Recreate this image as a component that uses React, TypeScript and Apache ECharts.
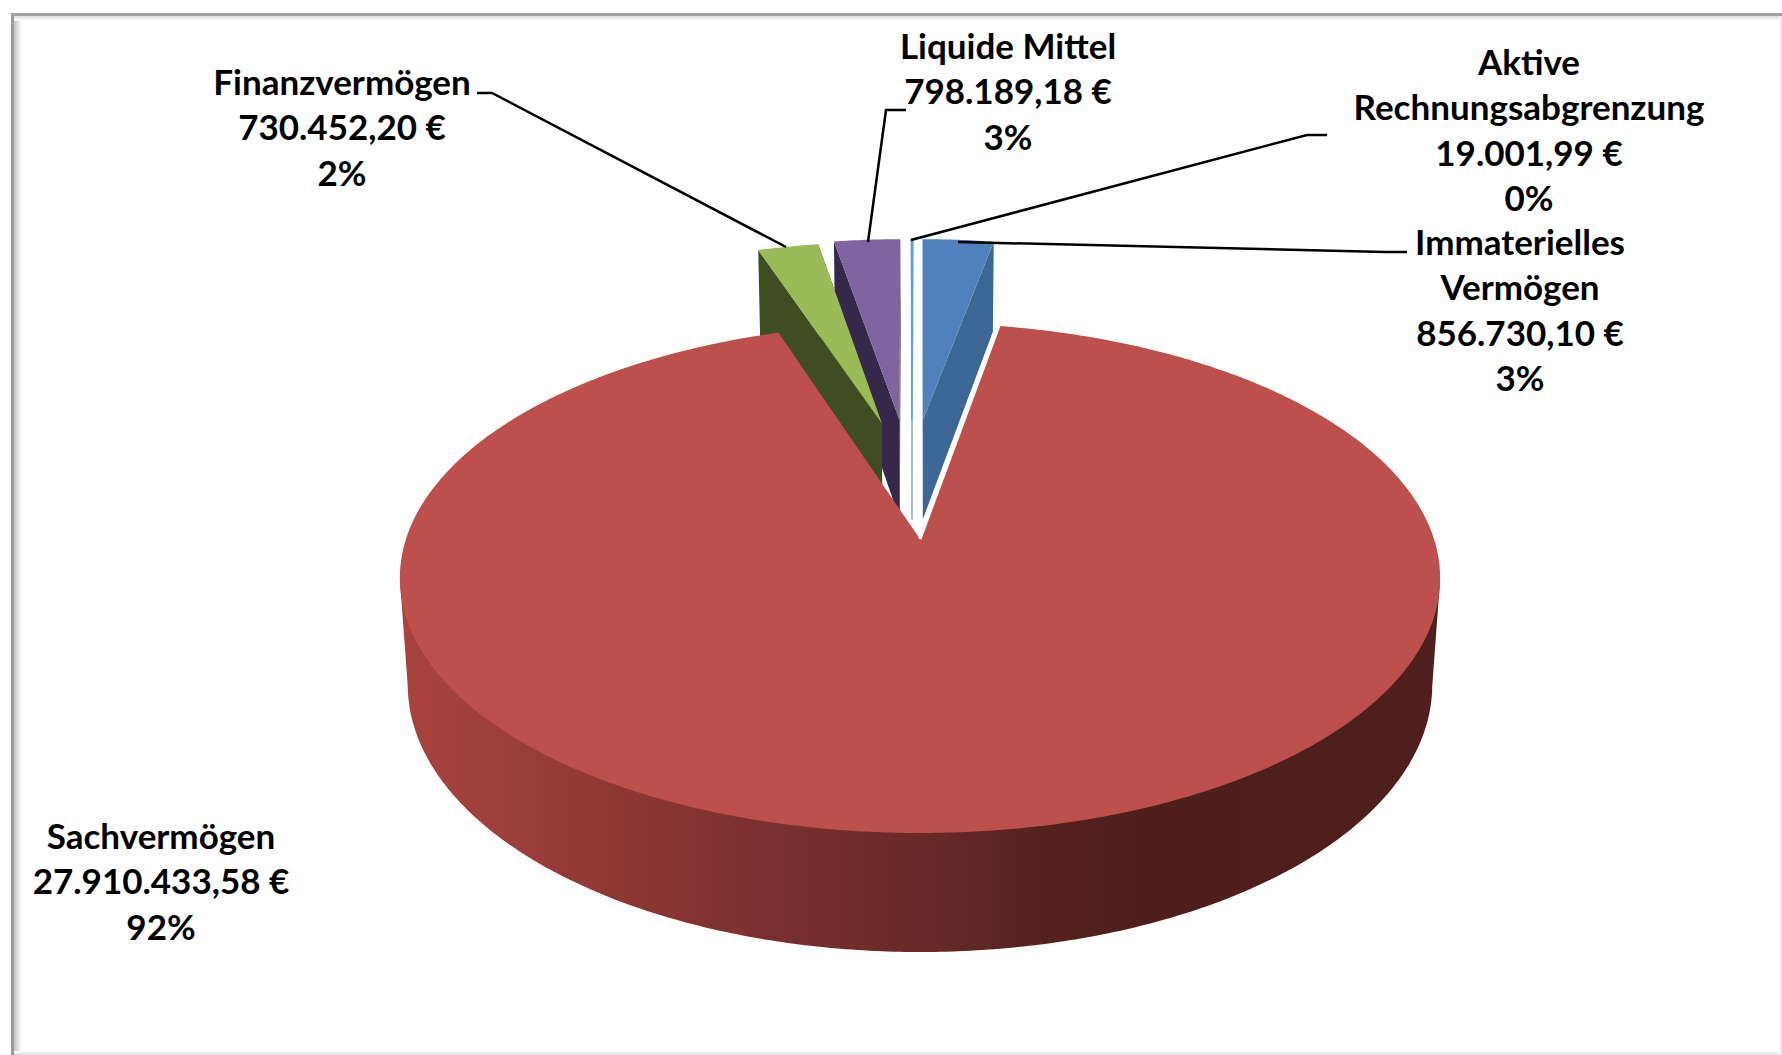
import React, { useEffect, useRef } from "react";
import * as echarts from "echarts";

// ---- data ----
const categories = ["Immaterielles\nVermögen", "Sachvermögen", "Finanzvermögen", "Liquide Mittel", "Aktive\nRechnungsabgrenzung"];
const values = [856730.1, 27910433.58, 730452.2, 798189.18, 19001.99];

// ---- styles and layout ----
const topColors = ["#4F81BD", "#BD4F4C", "#9BBB59", "#8064A2", "#4BACC6"];
const wallColors = ["#3B6797", "#7A2E2C", "#3F4E20", "#35284A", "#A9B9C0"];
const drawOrder = [3, 9, 2, 1, 0];
// explosion of each slice on the pie's plane (unit radius)
const explodeU = [0.006, 0, -0.08, -0.043, -0.017];
const explodeV = [-0.516, 0, -0.5, -0.516, -0.516];
const sliceRadius = [0.96, 1, 0.96, 0.96, 0.96];
const labelX = [1520, 161, 342, 1008, 1529];
const labelY = [309, 880, 126, 90, 129];
const leaders = [
  [[1407, 252], [1385, 252], [958, 242]],
  [],
  [[477, 93], [492, 93], [786, 247]],
  [[906, 110], [886, 110], [868, 242]],
  [[1327, 135], [1307, 135], [911, 240]],
];

const FONT = "Lato";
const FONT_SIZE = 35;
const SILHOUETTE_RIGHT = (99 / 180) * Math.PI;
const SILHOUETTE_LEFT = (261 / 180) * Math.PI;

// perspective of the pie: u right, v toward viewer, z down (0 top face, 1 bottom face)
function project(u: number, v: number, z: number): number[] {
  const w = 1 - 0.153 * v + 0.015 * z;
  return [920 + (514 * u) / w, 539 + (249 * v + 107 * z) / w];
}

const total = values.reduce((a, b) => a + b, 0);

function euro(v: number): string {
  const [i, d] = v.toFixed(2).split(".");
  return i.replace(/\B(?=(\d{3})+(?!\d))/g, ".") + "," + d + " €";
}

function sliceAngles(index: number): number[] {
  let start = 0;
  for (let i = 0; i < index; i++) start += values[i];
  return [(start / total) * 2 * Math.PI, ((start + values[index]) / total) * 2 * Math.PI];
}

function renderItem(params: any, api: any) {
  const i = params.dataIndex;
  const [a0, a1] = sliceAngles(i);
  const eu = explodeU[i];
  const ev = explodeV[i];
  const r = sliceRadius[i];
  const z2 = drawOrder[i];
  const rim = (a: number, z: number) => project(eu + r * Math.sin(a), ev - r * Math.cos(a), z);
  const apex = (z: number) => project(eu, ev, z);
  const sweep = (from: number, to: number, z: number) => {
    const steps = Math.max(2, Math.ceil((to - from) / 0.01));
    const pts: number[][] = [];
    for (let s = 0; s <= steps; s++) pts.push(rim(from + ((to - from) * s) / steps, z));
    return pts;
  };
  const topArc = sweep(a0, a1, 0);
  const children: any[] = [];
  if (i === 1) {
    // front wall: bottom rim between the silhouette points, closed under the top face
    const wall = [rim(SILHOUETTE_RIGHT, 0), ...sweep(SILHOUETTE_RIGHT, SILHOUETTE_LEFT, 1), rim(SILHOUETTE_LEFT, 0)];
    children.push({
      type: "polygon",
      z2,
      shape: { points: wall },
      style: {
        fill: new echarts.graphic.LinearGradient(0, 0, 1, 0, [
          { offset: 0, color: "#A8433F" },
          { offset: 0.1, color: "#9C3F3B" },
          { offset: 0.22, color: "#8C3733" },
          { offset: 0.38, color: "#772E2E" },
          { offset: 0.5, color: "#682A28" },
          { offset: 0.62, color: "#55211F" },
          { offset: 0.72, color: "#4E1E1C" },
          { offset: 1, color: "#4E1F1D" },
        ]),
      },
    });
  } else {
    const face = (a: number) => ({
      type: "polygon",
      z2,
      shape: { points: [apex(0), rim(a, 0), rim(a, 1), apex(1)] },
      style: { fill: wallColors[i], stroke: i === 4 ? wallColors[i] : undefined, lineWidth: i === 4 ? 1 : 0 },
    });
    children.push(face(a0), face(a1));
  }
  children.push({
    type: "polygon",
    z2,
    shape: { points: [apex(0), ...topArc] },
    style: { fill: topColors[i], stroke: i === 4 ? topColors[i] : undefined, lineWidth: i === 4 ? 1 : 0 },
  });
  if (i === 1) {
    children.push({
      type: "polyline",
      z2,
      shape: { points: [rim(a0, 0), apex(0)] },
      style: { stroke: "#FFFFFF", lineWidth: 3, fill: "none" },
    });
  }
  return { type: "group", children };
}

function buildOption() {
  const frame = [
    { type: "rect", shape: { x: 14, y: 16, width: 8, height: 1039 }, style: { fill: new echarts.graphic.LinearGradient(0, 0, 1, 0, [{ offset: 0, color: "#C4C4C4" }, { offset: 1, color: "#FFFFFF" }]) } },
    { type: "rect", shape: { x: 14, y: 16, width: 1768, height: 5 }, style: { fill: new echarts.graphic.LinearGradient(0, 0, 0, 1, [{ offset: 0, color: "#DDDDDD" }, { offset: 1, color: "#FFFFFF" }]) } },
    { type: "rect", shape: { x: 11, y: 13, width: 3, height: 1042 }, style: { fill: "#9C9C9C" } },
    { type: "rect", shape: { x: 11, y: 13, width: 1771, height: 3 }, style: { fill: "#A4A4A4" } },
    { type: "rect", shape: { x: 14, y: 1051, width: 1768, height: 4 }, style: { fill: new echarts.graphic.LinearGradient(0, 0, 0, 1, [{ offset: 0, color: "#FFFFFF" }, { offset: 1, color: "#DCDCDC" }]) } },
    { type: "rect", shape: { x: 1779, y: 16, width: 3, height: 1039 }, style: { fill: new echarts.graphic.LinearGradient(0, 0, 1, 0, [{ offset: 0, color: "#FFFFFF" }, { offset: 1, color: "#DCDCDC" }]) } },
  ];
  const lines = leaders
    .filter((p) => p.length > 0)
    .map((points) => ({
      type: "polyline",
      z: 5,
      shape: { points },
      style: { stroke: "#000000", lineWidth: 2.5, fill: "none" },
    }));
  const labels = categories.map((name, i) => ({
    type: "text",
    z: 6,
    x: labelX[i],
    y: labelY[i],
    style: {
      text: `${name}\n${euro(values[i])}\n${Math.round((values[i] / total) * 100)}%`,
      fontFamily: FONT,
      fontWeight: "bold",
      fontSize: FONT_SIZE,
      lineHeight: 45.5,
      fill: "#000000",
      align: "center",
      verticalAlign: "middle",
    },
  }));
  return {
    animation: false,
    backgroundColor: "#FFFFFF",
    graphic: { elements: [...frame, ...lines, ...labels] },
    series: [
      {
        type: "custom",
        coordinateSystem: "none",
        renderItem,
        silent: true,
        clip: false,
        z: 2,
        data: values.map((v) => [v]),
      },
    ],
  };
}

export default function App() {
  const ref = useRef<HTMLDivElement>(null);
  useEffect(() => {
    const chart = echarts.init(ref.current!, undefined, { renderer: "svg" });
    chart.setOption(buildOption() as any);
    return () => chart.dispose();
  }, []);
  return <div ref={ref} style={{ position: "absolute", left: 0, top: 0, width: 1782, height: 1055 }} />;
}
